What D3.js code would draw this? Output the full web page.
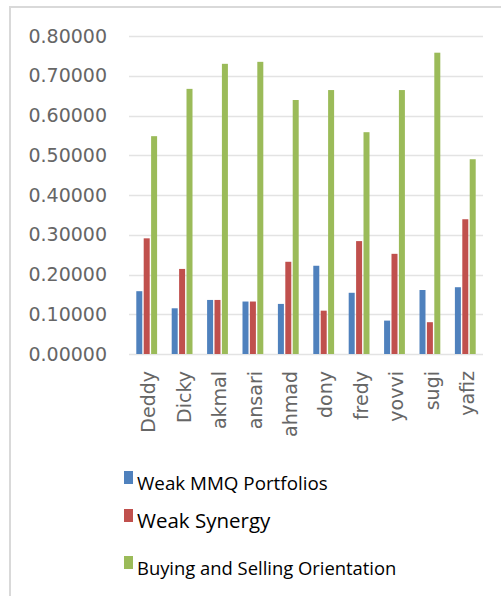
<!DOCTYPE html>
<html><head><meta charset="utf-8">
<script src="https://cdn.jsdelivr.net/npm/d3@7"></script>
<style>html,body{margin:0;padding:0;background:#fff;overflow:hidden}</style>
</head><body><svg id="c" width="501" height="596"></svg>
<script>
const categories = ["Deddy","Dicky","akmal","ansari","ahmad","dony","fredy","yovvi","sugi","yafiz"];
const seriesNames = ["Weak MMQ Portfolios","Weak Synergy","Buying and Selling Orientation"];
const weakMMQ = [0.158,0.115,0.136,0.132,0.126,0.222,0.154,0.084,0.161,0.168];
const weakSynergy = [0.291,0.214,0.136,0.132,0.232,0.109,0.284,0.252,0.080,0.339];
const buySell = [0.548,0.667,0.730,0.735,0.639,0.664,0.558,0.664,0.758,0.490];
const yTicks = [0,0.1,0.2,0.3,0.4,0.5,0.6,0.7,0.8];
const colors = ["#4F81BD","#C0504D","#9BBB59"];

(function(){
const seriesVals = [weakMMQ, weakSynergy, buySell];
const svg = d3.select("#c");

// outer frame
svg.append("rect").attr("x",10).attr("y",7).attr("width",520).attr("height",620)
  .attr("fill","none").attr("stroke","#d9d9d9").attr("stroke-width",2);

const pL=129, pR=483, pT=36, pB=354;
const y = d3.scaleLinear().domain([0,0.8]).range([pB, pT]);
const x0 = d3.scaleBand().domain(categories).range([pL,pR]).padding(0);
const x1 = d3.scaleBand().domain(seriesNames).range([0,x0.bandwidth()]).paddingInner(0.19).paddingOuter(0.985);

// gridlines
svg.append("g").selectAll("line").data(yTicks).join("line")
  .attr("x1",pL).attr("x2",pR)
  .attr("y1",d=>Math.round(y(d))+0.5).attr("y2",d=>Math.round(y(d))+0.5)
  .attr("stroke","#e3e3e3").attr("stroke-width",1.5);

// y labels
const yAxis = d3.axisLeft(y).tickValues(yTicks).tickFormat(d3.format(".5f")).tickSize(0).tickPadding(0);
const ga = svg.append("g").attr("transform","translate(107,0)").call(yAxis);
ga.select(".domain").remove();
ga.selectAll("text").attr("font-family","DejaVu Sans").attr("font-size",19).attr("fill","#666");

// bars
const data = [];
categories.forEach((c,i)=>seriesNames.forEach((s,j)=>data.push({c,s,j,v:seriesVals[j][i]})));
svg.append("g").selectAll("rect").data(data).join("rect")
  .attr("x",d=>x0(d.c)+x1(d.s))
  .attr("width",x1.bandwidth())
  .attr("y",d=>y(d.v))
  .attr("height",d=>pB-y(d.v))
  .attr("fill",d=>colors[d.j]);

// x axis labels
const xAxis = d3.axisBottom(x0).tickSize(0).tickPadding(0);
const gx = svg.append("g").attr("transform",`translate(2,${pB})`).call(xAxis);
gx.select(".domain").remove();
gx.selectAll("text").attr("font-family","DejaVu Sans").attr("font-size",19).attr("fill","#666")
  .attr("text-anchor","end").attr("transform","rotate(-90)")
  .attr("x",-17).attr("y",0).attr("dy","0.35em");

// legend
const legY = [490,528,575];
const legSize = [18.8,20.5,18.4];
const lg = svg.append("g").selectAll("g").data(seriesNames).join("g");
lg.append("rect").attr("x",124).attr("y",(d,i)=>legY[i]-19).attr("width",9).attr("height",13)
  .attr("fill",(d,i)=>colors[i]);
lg.append("text").attr("x",137).attr("y",(d,i)=>legY[i])
  .attr("font-family","Open Sans").attr("font-size",(d,i)=>legSize[i]).attr("fill","#000")
  .text(d=>d);
})();
</script></body></html>
